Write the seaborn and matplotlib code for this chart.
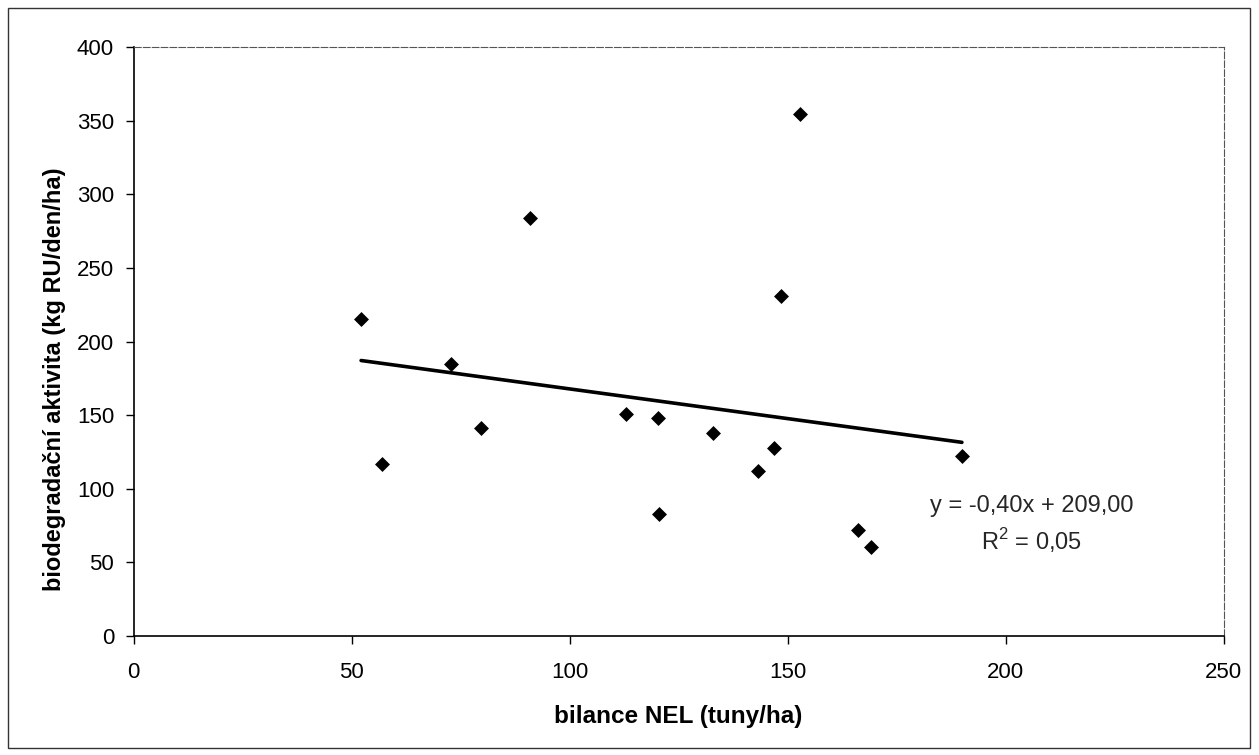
import matplotlib
matplotlib.use("Agg")
import matplotlib.pyplot as plt
import seaborn as sns
import pandas as pd
from matplotlib.patches import Rectangle

# data
bilance_nel = [52.2, 57.0, 72.8, 79.8, 90.9, 113.0, 120.2, 120.6, 133.0,
               143.3, 146.8, 148.6, 152.8, 166.1, 169.1, 190.0]
biodegradace = [215.1, 117.0, 184.9, 141.3, 284.1, 150.5, 148.3, 82.9, 137.9,
                112.3, 127.7, 230.9, 354.3, 71.8, 60.2, 122.2]
x_ticks = [0, 50, 100, 150, 200, 250]
y_ticks = [0, 50, 100, 150, 200, 250, 300, 350, 400]
rovnice = "y = -0,40x + 209,00"
r2_text = "R$^2$ = 0,05"

df = pd.DataFrame({"x": bilance_nel, "y": biodegradace})

sns.set_style("white")
plt.rcParams["font.family"] = ["Liberation Sans", "DejaVu Sans"]
plt.rcParams["mathtext.fontset"] = "custom"
plt.rcParams["mathtext.rm"] = "Liberation Sans"

fig = plt.figure(figsize=(12.59, 7.55), dpi=100)
ax = fig.add_axes([133.5 / 1259, 1 - 636 / 755, 1090 / 1259, 589 / 755])

sns.regplot(data=df, x="x", y="y", ax=ax, ci=None, color="black",
            marker="D", scatter_kws={"s": 58, "linewidths": 0, "alpha": 1},
            line_kws={"linewidth": 2.6})

ax.set_xlim(0, 250)
ax.set_ylim(0, 400)
ax.set_xticks(x_ticks)
ax.set_yticks(y_ticks)
ax.tick_params(axis="both", direction="out", length=6, width=1, color="black",
               labelsize=16, pad=8, left=True, bottom=True, labelcolor="black")
ax.tick_params(axis="x", pad=13)
ax.set_xlabel("bilance NEL (tuny/ha)", fontsize=17.5, fontweight="bold",
              color="black")
ax.set_ylabel("biodegradační aktivita (kg RU/den/ha)", fontsize=17,
              fontweight="bold", color="black")
ax.xaxis.set_label_coords(0.5, -0.117)
ax.yaxis.set_label_coords(-0.062, 0.436)

for side in ["left", "bottom"]:
    ax.spines[side].set_color("black")
    ax.spines[side].set_linewidth(1.2)
for side in ["top", "right"]:
    ax.spines[side].set_color("#555555")
    ax.spines[side].set_linewidth(0.8)
    ax.spines[side].set_linestyle((0, (6, 2)))

ax.text(206, 88, rovnice, fontsize=17, ha="center", va="center")
ax.text(206, 65, r2_text, fontsize=17, ha="center", va="center")

fig.patches.append(Rectangle((8 / 1259, 7 / 755), 1242 / 1259, 740 / 755,
                             transform=fig.transFigure, fill=False,
                             edgecolor="#333333", linewidth=1))

fig.savefig("out.png", dpi=100)
